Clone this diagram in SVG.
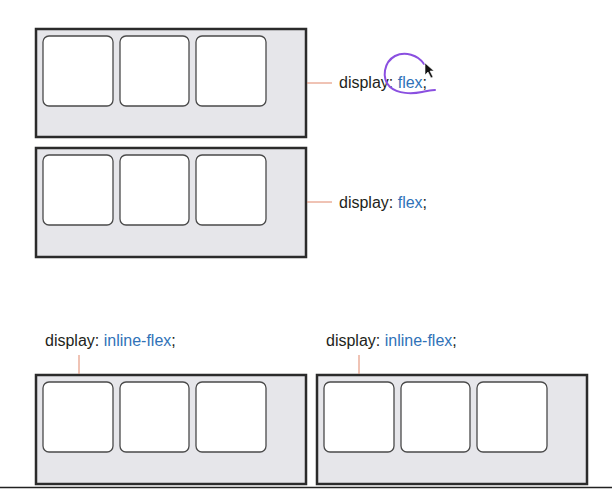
<svg xmlns="http://www.w3.org/2000/svg" width="612" height="489" viewBox="0 0 612 489">
<style>
.outer{fill:#e6e6ea;stroke:#2b2b2b;stroke-width:2.5}
.item{fill:#fff;stroke:#4a4a4a;stroke-width:1.3}
.conn{stroke:#e0876a;stroke-width:1;fill:none}
.lbl{font-family:"Liberation Sans",Arial,sans-serif;font-size:16px;fill:#231f20}
.kw{fill:#2f72b8}
</style>
<rect width="612" height="489" fill="#fff"/>
<defs>
<g id="items">
<rect class="item" x="0" y="0" width="70" height="70" rx="6"/>
<rect class="item" x="77" y="0" width="69" height="70" rx="6"/>
<rect class="item" x="153" y="0" width="70" height="70" rx="6"/>
</g>
</defs>
<g id="container1">
<rect class="outer" x="36" y="29" width="270" height="108"/>
<use href="#items" x="43" y="36"/>
</g>
<g id="container2">
<rect class="outer" x="36" y="148" width="270" height="109"/>
<use href="#items" x="43" y="155"/>
</g>
<g id="container3">
<rect class="outer" x="36" y="375" width="270" height="109"/>
<use href="#items" x="43" y="382"/>
</g>
<g id="container4">
<rect class="outer" x="317" y="375" width="270" height="109"/>
<use href="#items" x="324" y="382"/>
</g>
<g id="connectors">
<line class="conn" x1="307" y1="83" x2="332" y2="83"/>
<line class="conn" x1="307" y1="202" x2="332" y2="202"/>
<line class="conn" x1="79" y1="355" x2="79" y2="374"/>
<line class="conn" x1="359" y1="355" x2="359" y2="374"/>
</g>
<g id="label1"><text class="lbl" x="339" y="88">display: <tspan class="kw">flex</tspan>;</text></g>
<g id="label2"><text class="lbl" x="339" y="208">display: <tspan class="kw">flex</tspan>;</text></g>
<g id="label3"><text class="lbl" x="45" y="346">display: <tspan class="kw">inline-flex</tspan>;</text></g>
<g id="label4"><text class="lbl" x="326" y="346">display: <tspan class="kw">inline-flex</tspan>;</text></g>
<line x1="0" y1="487.5" x2="612" y2="487.5" stroke="#222" stroke-width="1.5"/>
<path d="M424 64 C418 55 405 51 395 56 C384 62 381 78 390 87 C398 94 412 94 422 92 C428 91 432 90 435 90" fill="none" stroke="#8a4fe0" stroke-width="2" stroke-linecap="round"/>
<path d="M425 63 L425 75 L428 72 L431 78 L433 77 L430 71 L434 71 Z" fill="#111" stroke="#fff" stroke-width="0.6"/>
</svg>
